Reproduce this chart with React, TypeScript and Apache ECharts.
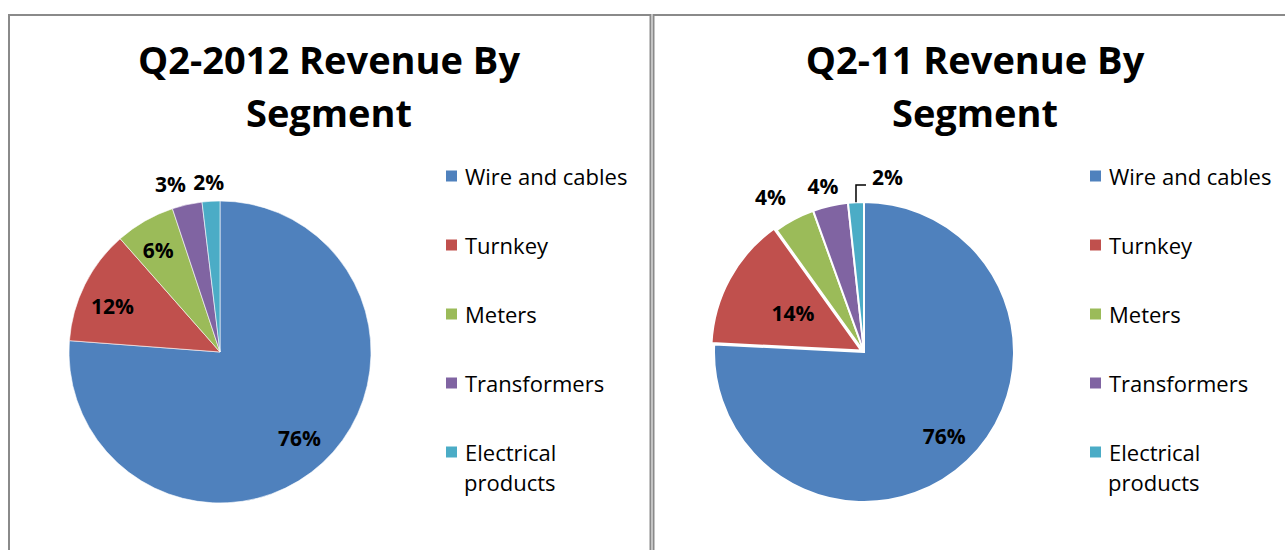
import { useEffect, useRef } from 'react';
import * as echarts from 'echarts';

const categories = ['Wire and cables', 'Turnkey', 'Meters', 'Transformers', 'Electrical products'];
const revenueQ2_2012 = [76.2, 12.3, 6.4, 3.2, 1.9];
const revenueQ2_2011 = [75.8, 14.3, 4.4, 3.8, 1.7];
const chartTitles = ['Q2-2012 Revenue By\nSegment', 'Q2-11 Revenue By\nSegment'];
const colors = ['#4F81BD', '#C0504D', '#9BBB59', '#8064A2', '#4BACC6'];

const FONT = "'Open Sans', 'Noto Sans', sans-serif";

type LabelSpec = { f: number; dx: number; dy: number; leader?: boolean };

const panels = [
  {
    values: revenueQ2_2012,
    title: chartTitles[0],
    cx: 220, cy: 352, r: 151,
    titleX: 329, legendX: 444,
    explode: -1, border: 0.6,
    labels: [
      { f: 0.775, dx: 0, dy: 0 },
      { f: 0.78, dx: -2, dy: 6 },
      { f: 0.78, dx: -3, dy: 0 },
      { f: 1.14, dx: -12, dy: 0 },
      { f: 1.13, dx: -1, dy: 0 },
    ] as LabelSpec[],
  },
  {
    values: revenueQ2_2011,
    title: chartTitles[1],
    cx: 864, cy: 352, r: 150,
    titleX: 975, legendX: 1088,
    explode: 1, border: 2,
    labels: [
      { f: 0.775, dx: 0, dy: 0 },
      { f: 0.78, dx: 3, dy: 8 },
      { f: 1.167, dx: -12, dy: 0 },
      { f: 1.133, dx: -3, dy: 0 },
      { f: 1, dx: 16, dy: -25, leader: true },
    ] as LabelSpec[],
  },
];

const EXPLODE_OFFSET = 3;

function midAngle(values: number[], i: number) {
  const total = values.reduce((a, b) => a + b, 0);
  let before = 0;
  for (let k = 0; k < i; k++) before += values[k];
  return ((before + values[i] / 2) / total) * Math.PI * 2;
}

export default function App() {
  const ref = useRef<HTMLDivElement>(null);

  useEffect(() => {
    if (!ref.current) return;
    const chart = echarts.init(ref.current, null, { renderer: 'svg' });

    const graphics: any[] = [
      {
        type: 'rect',
        shape: { x: 9, y: 15, width: 641.5, height: 600 },
        style: { fill: 'none', stroke: '#8a8a8a', lineWidth: 2 },
        z: 0,
      },
      {
        type: 'rect',
        shape: { x: 653.5, y: 15, width: 700, height: 600 },
        style: { fill: 'none', stroke: '#8a8a8a', lineWidth: 2 },
        z: 0,
      },
    ];

    panels.forEach((p) => {
      // second line of the wrapped legend label
      graphics.push({
        type: 'text',
        x: p.legendX + 20,
        y: 176 + 4 * 69 + 30,
        style: {
          text: 'products',
          fontFamily: FONT,
          fontSize: 22,
          fill: '#000',
          verticalAlign: 'middle',
        },
      });
      p.labels.forEach((spec, i) => {
        if (!spec.leader) return;
        const a = midAngle(p.values, i);
        const sx = p.cx + Math.sin(a) * p.r;
        const sy = p.cy - Math.cos(a) * p.r;
        const ly = p.cy - p.r + spec.dy + 8;
        graphics.push({
          type: 'polyline',
          shape: { points: [[sx, sy], [sx, ly], [sx + 10, ly]] },
          style: { stroke: '#000', lineWidth: 1.5, fill: 'none' },
          z: 10,
        });
      });
    });

    const series = panels.map((p) => ({
      type: 'pie',
      center: [p.cx, p.cy],
      radius: p.r,
      startAngle: 90,
      clockwise: true,
      selectedMode: 'single',
      selectedOffset: EXPLODE_OFFSET,
      avoidLabelOverlap: false,
      emphasis: { disabled: true },
      data: categories.map((name, i) => ({
        name,
        value: p.values[i],
        selected: i === p.explode,
        itemStyle: { color: colors[i] },
      })),
      itemStyle: { borderColor: '#fff', borderWidth: p.border },
      label: {
        show: true,
        position: 'inside',
        formatter: (prm: any) => Math.round(prm.value) + '%',
        fontFamily: FONT,
        fontWeight: 'bold',
        fontSize: 21,
        color: '#000',
      },
      labelLine: { show: false },
      labelLayout: (prm: any) => {
        const i = prm.dataIndex;
        const spec = p.labels[i];
        const a = midAngle(p.values, i);
        if (spec.leader) {
          return {
            x: p.cx + Math.sin(a) * p.r + spec.dx,
            y: p.cy - p.r + spec.dy,
            align: 'left',
            verticalAlign: 'middle',
          };
        }
        const d = spec.f * p.r + (i === p.explode ? EXPLODE_OFFSET : 0);
        return {
          x: p.cx + Math.sin(a) * d + spec.dx,
          y: p.cy - Math.cos(a) * d + spec.dy,
          align: 'center',
          verticalAlign: 'middle',
        };
      },
    }));

    chart.setOption({
      animation: false,
      backgroundColor: '#fff',
      color: colors,
      title: panels.map((p) => ({
        text: p.title,
        left: p.titleX,
        top: 32,
        textAlign: 'center',
        padding: 0,
        textStyle: {
          fontFamily: FONT,
          fontWeight: 'bold',
          fontSize: 38,
          lineHeight: 53,
          color: '#000',
        },
      })),
      legend: panels.map((p) => ({
        orient: 'vertical',
        left: p.legendX,
        top: 161,
        padding: 0,
        itemWidth: 13,
        itemHeight: 13,
        itemGap: 39,
        icon: 'rect',
        selectedMode: false,
        data: categories,
        formatter: (n: string) => (n === 'Electrical products' ? 'Electrical' : n),
        textStyle: {
          fontFamily: FONT,
          fontSize: 22,
          lineHeight: 30,
          color: '#000',
          padding: [0, 0, 0, 2],
        },
      })),
      graphic: graphics,
      series,
    });

    return () => chart.dispose();
  }, []);

  return (
    <div
      ref={ref}
      style={{ position: 'absolute', left: 0, top: 0, width: 1285, height: 550, background: '#fff' }}
    />
  );
}
